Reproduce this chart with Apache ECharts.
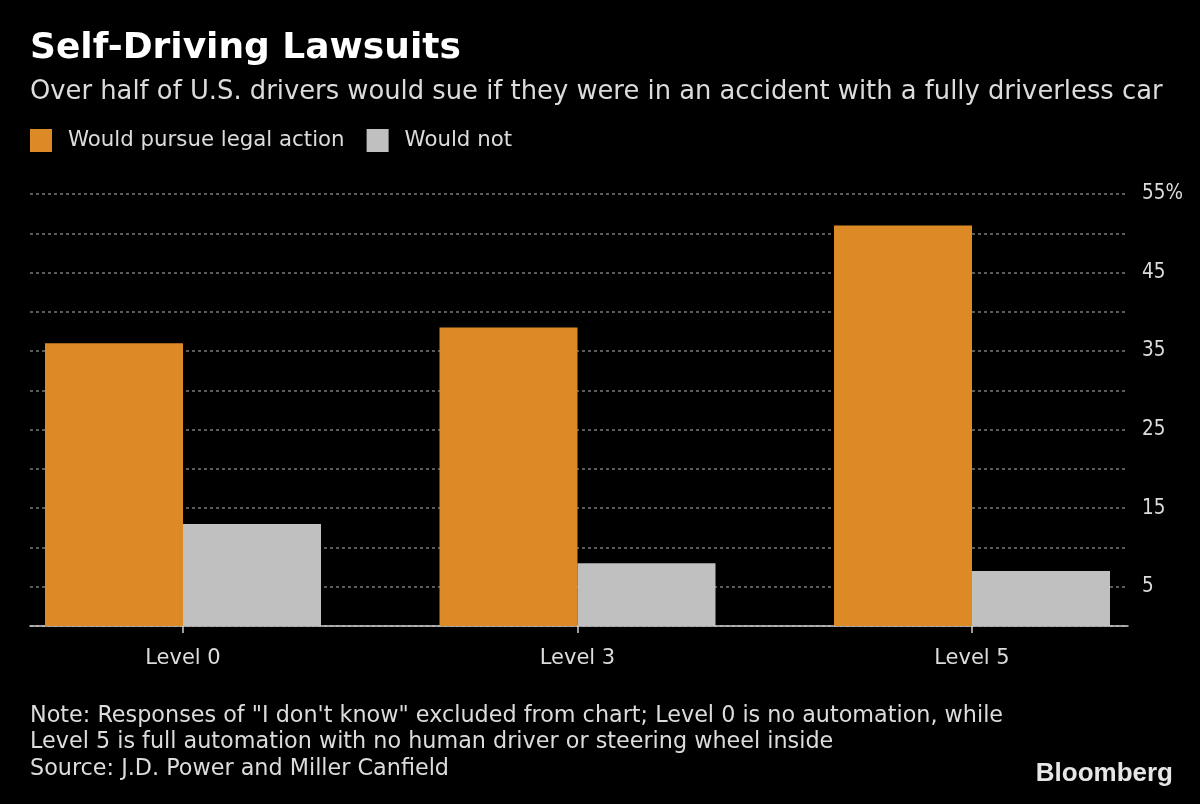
<!DOCTYPE html>
<html><head><meta charset="utf-8">
<script src="https://cdn.jsdelivr.net/npm/echarts@6/dist/echarts.min.js"></script>
<style>html,body{margin:0;padding:0;background:#000;overflow:hidden}#c{position:absolute;left:-20px;top:0;width:1220px;height:804px}</style>
</head><body><div id="c"></div>
<script>
const categories = ['Level 0', 'Level 3', 'Level 5'];
const seriesNames = ['Would pursue legal action', 'Would not'];
const pursue = [36, 38, 51];
const wouldNot = [13, 8, 7];
const yTicks = [5, 15, 25, 35, 45, 55];

const FONT = '"DejaVu Sans", sans-serif';
const FONTC = '"DejaVu Sans Condensed", "DejaVu Sans", sans-serif';
const TXT = '#dcdcdc';
const OFF = 20; // container is shifted left by this amount
const chart = echarts.init(document.getElementById('c'));
chart.setOption({
  backgroundColor: '#000',
  animation: false,
  textStyle: { fontFamily: FONT },
  legend: {
    left: 30 + OFF, top: 129, itemWidth: 22, itemHeight: 23, itemGap: 22, padding: 0,
    icon: 'rect',
    textStyle: { color: TXT, fontSize: 21.3, fontFamily: FONT, padding: [0, 0, 0, 11] },
    data: seriesNames
  },
  grid: [
    { left: 30 + OFF, right: 72, top: 194, bottom: 178 },
    { left: -14.25 + OFF, right: 30.75, top: 194, bottom: 178 }
  ],
  xAxis: [
    { type: 'category', gridIndex: 0, data: categories, show: true,
      axisLine: { lineStyle: { color: '#d0d0d0', width: 1.5 } },
      axisTick: { show: false }, axisLabel: { show: false } },
    { type: 'category', gridIndex: 1, data: categories,
      axisLine: { show: false },
      axisTick: { show: true, alignWithLabel: true, length: 7, lineStyle: { color: '#d0d0d0', width: 1.5 } },
      axisLabel: { color: TXT, fontSize: 21, margin: 22, fontFamily: FONT } }
  ],
  yAxis: [
    { type: 'value', gridIndex: 0, position: 'right', min: 0, max: 55, interval: 5,
      axisLine: { show: false }, axisTick: { show: false },
      splitLine: { lineStyle: { color: '#7a7a7a', type: [3, 3], width: 1.5 } },
      axisLabel: { color: TXT, fontSize: 20.5, fontFamily: FONTC, margin: 14, align: 'left',
        formatter: v => yTicks.includes(v) ? (v === 55 ? v + '%' : String(v)) : '' } },
    { type: 'value', gridIndex: 1, min: 0, max: 55, interval: 5, show: false }
  ],
  series: [
    { name: seriesNames[0], type: 'bar', xAxisIndex: 1, yAxisIndex: 1, data: pursue,
      barWidth: 138, barGap: '0%', itemStyle: { color: '#dc8a26' } },
    { name: seriesNames[1], type: 'bar', xAxisIndex: 1, yAxisIndex: 1, data: wouldNot,
      barWidth: 138, barGap: '0%', itemStyle: { color: '#c0c0c0' } }
  ],
  graphic: [
    { type: 'text', left: 30 + OFF, top: 31, style: { text: 'Self-Driving Lawsuits', fill: '#fff', font: 'bold 36px ' + FONT } },
    { type: 'text', left: 30 + OFF, top: 79, style: { text: 'Over half of U.S. drivers would sue if they were in an accident with a fully driverless car', fill: TXT, font: '25.8px ' + FONT } },
    { type: 'text', left: 30 + OFF, top: 705, style: { text: 'Note: Responses of "I don\'t know" excluded from chart; Level 0 is no automation, while', fill: TXT, font: '22.3px ' + FONT } },
    { type: 'text', left: 30 + OFF, top: 731, style: { text: 'Level 5 is full automation with no human driver or steering wheel inside', fill: TXT, font: '22.3px ' + FONT } },
    { type: 'text', left: 30 + OFF, top: 758, style: { text: 'Source: J.D. Power and Miller Canfield', fill: TXT, font: '22.3px ' + FONT } },
    { type: 'text', right: 27, top: 761, style: { text: 'Bloomberg', fill: '#e6e6e6', font: 'bold 26px "Liberation Sans", Arial, sans-serif' } }
  ]
});
</script></body></html>
